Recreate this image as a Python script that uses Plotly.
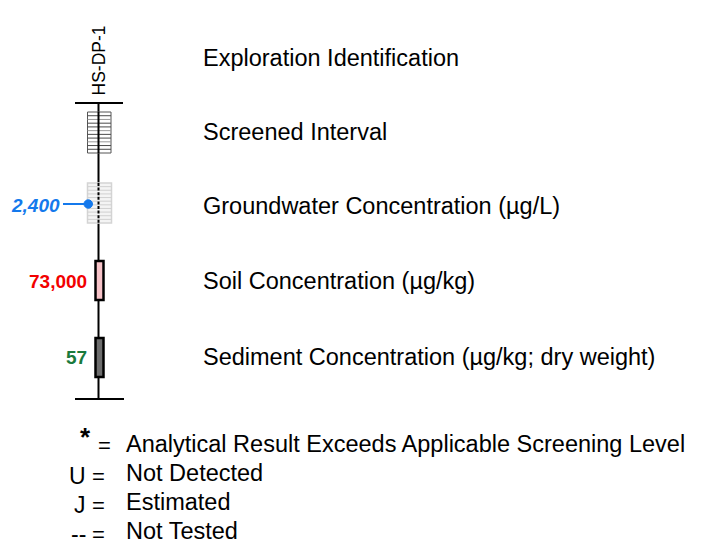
import plotly.graph_objects as go

# ---------------- data ----------------
exploration_id = "HS-DP-1"
legend_labels = [
    "Exploration Identification",
    "Screened Interval",
    "Groundwater Concentration (µg/L)",
    "Soil Concentration (µg/kg)",
    "Sediment Concentration (µg/kg; dry weight)",
]
groundwater_value = "2,400"
soil_value = "73,000"
sediment_value = "57"
qualifier_codes = ["*", "U", "J", "--"]
qualifier_meanings = [
    "Analytical Result Exceeds Applicable Screening Level",
    "Not Detected",
    "Estimated",
    "Not Tested",
]

# ---------------- layout geometry (pixel-like coordinates) ----------------
W, H = 702, 550
OFF = 8  # page body margin compensation
FONT = "Liberation Sans, Arial, sans-serif"
col_x = 98.5
top_y, bot_y = 103, 399
row_y = [58, 132, 206, 281, 357]
label_x = 201

fig = go.Figure()
shapes = []
annotations = []

# main boring line (solid above / below groundwater box, dashed inside)
shapes.append(dict(type="line", x0=col_x, x1=col_x, y0=top_y, y1=183,
                   line=dict(color="black", width=2)))
shapes.append(dict(type="line", x0=col_x, x1=col_x, y0=223, y1=bot_y,
                   line=dict(color="black", width=2)))
# top and bottom bars
shapes.append(dict(type="line", x0=75, x1=123, y0=top_y, y1=top_y,
                   line=dict(color="black", width=2)))
shapes.append(dict(type="line", x0=75, x1=124, y0=bot_y, y1=bot_y,
                   line=dict(color="black", width=2)))

# screened interval box with hatching
sx0, sx1, sy0, sy1 = 87.5, 111, 112, 153
shapes.append(dict(type="rect", x0=sx0, x1=sx1, y0=sy0, y1=sy1,
                   line=dict(color="#555555", width=1), fillcolor="white"))
n = 11
for i in range(1, n):
    yy = sy0 + (sy1 - sy0) * i / n
    col = "#9a9a9a" if i % 3 == 2 else "#4a4a4a"
    shapes.append(dict(type="line", x0=sx0, x1=sx1, y0=yy, y1=yy,
                       line=dict(color=col, width=1)))
shapes.append(dict(type="line", x0=col_x, x1=col_x, y0=sy0, y1=sy1,
                   line=dict(color="black", width=2)))

# groundwater box (light hatching)
gx0, gx1, gy0, gy1 = 87.5, 111.5, 183, 223
shapes.append(dict(type="rect", x0=gx0, x1=gx1, y0=gy0, y1=gy1,
                   line=dict(color="#d4d4d4", width=1.5), fillcolor="#f4f4f4"))
for i in range(1, 11):
    yy = gy0 + (gy1 - gy0) * i / 11
    shapes.append(dict(type="line", x0=gx0, x1=gx1, y0=yy, y1=yy,
                       line=dict(color="#d0d0d0", width=1)))
shapes.append(dict(type="line", x0=col_x, x1=col_x, y0=gy0, y1=gy1,
                   line=dict(color="black", width=2, dash="3px,1.6px")))
# groundwater pointer
shapes.append(dict(type="line", x0=63, x1=88, y0=204, y1=204,
                   line=dict(color="#1479ec", width=2)))
shapes.append(dict(type="circle", x0=84, x1=92.5, y0=199.8, y1=208.2,
                   line=dict(color="#1479ec", width=1), fillcolor="#1479ec"))

# soil and sediment sample boxes
shapes.append(dict(type="rect", x0=95.5, x1=103.5, y0=261, y1=300,
                   line=dict(color="black", width=2.5), fillcolor="#f7c3c8"))
shapes.append(dict(type="rect", x0=95.5, x1=103.5, y0=338, y1=377,
                   line=dict(color="black", width=2.5), fillcolor="#6d6d6d"))

# exploration id (rotated)
annotations.append(dict(x=col_x, y=61, text=exploration_id, textangle=-90,
                        showarrow=False, font=dict(family=FONT, size=17.5, color="black"),
                        xanchor="center", yanchor="middle"))

# right-hand descriptions
for lab, yy in zip(legend_labels, row_y):
    annotations.append(dict(x=label_x, y=yy, text=lab, showarrow=False,
                            xanchor="left", yanchor="middle",
                            font=dict(family=FONT, size=23.5, color="black")))

# values
annotations.append(dict(x=62, y=205, text="<b><i>" + groundwater_value + "</i></b>",
                        showarrow=False, xanchor="right", yanchor="middle",
                        font=dict(family=FONT, size=19, color="#1479ec")))
annotations.append(dict(x=89, y=281, text="<b>" + soil_value + "</b>",
                        showarrow=False, xanchor="right", yanchor="middle",
                        font=dict(family=FONT, size=19, color="#f20000")))
annotations.append(dict(x=89, y=357, text="<b>" + sediment_value + "</b>",
                        showarrow=False, xanchor="right", yanchor="middle",
                        font=dict(family=FONT, size=19, color="#1a7a3c")))

# qualifier legend
q_y = [444, 473, 502, 531]
for code, meaning, yy in zip(qualifier_codes, qualifier_meanings, q_y):
    if code == "*":
        annotations.append(dict(x=85, y=yy - 7, text="<b>*</b>", showarrow=False,
                                xanchor="center", yanchor="middle",
                                font=dict(family=FONT, size=26, color="black")))
        annotations.append(dict(x=104.5, y=yy + 1, text="=", showarrow=False,
                                xanchor="center", yanchor="middle",
                                font=dict(family=FONT, size=22, color="black")))
    else:
        annotations.append(dict(x=88, y=yy + 3, text=code, showarrow=False,
                                xanchor="right", yanchor="middle",
                                font=dict(family=FONT, size=23, color="black")))
        annotations.append(dict(x=98.5, y=yy + 3, text="=", showarrow=False,
                                xanchor="center", yanchor="middle",
                                font=dict(family=FONT, size=22, color="black")))
    annotations.append(dict(x=124, y=yy, text=meaning, showarrow=False,
                            xanchor="left", yanchor="middle",
                            font=dict(family=FONT, size=23.5, color="black")))

fig.update_layout(
    width=W, height=H,
    margin=dict(l=0, r=0, t=0, b=0),
    paper_bgcolor="white", plot_bgcolor="white",
    xaxis=dict(range=[OFF, W + OFF], visible=False, fixedrange=True),
    yaxis=dict(range=[H + OFF, OFF], visible=False, fixedrange=True),
    shapes=shapes, annotations=annotations, showlegend=False,
)
fig.write_html("out.html")
